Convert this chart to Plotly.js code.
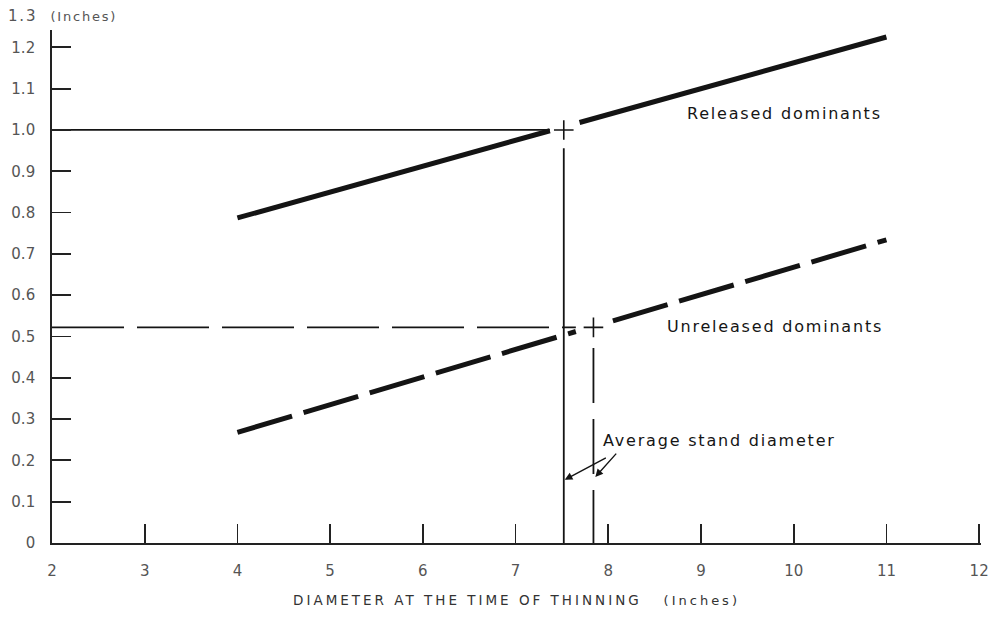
<!DOCTYPE html>
<html>
<head>
<meta charset="utf-8">
<script src="https://cdn.plot.ly/plotly-3.0.1.min.js"></script>
<style>
  html, body { margin: 0; padding: 0; background: #fff; }
  #chart { width: 988px; height: 620px; }
  .annotation-text { letter-spacing: 1.8px; }
  .g-xtitle text { letter-spacing: 3px; }
</style>
</head>
<body>
<div id="chart"></div>
<script>
// ---- data ----
const xTickVals = [2, 3, 4, 5, 6, 7, 8, 9, 10, 11, 12];
const yTickVals = [0, 0.1, 0.2, 0.3, 0.4, 0.5, 0.6, 0.7, 0.8, 0.9, 1.0, 1.1, 1.2];
const yTickText = ['0', '0.1', '0.2', '0.3', '0.4', '0.5', '0.6', '0.7', '0.8', '0.9', '1.0', '1.1', '1.2'];

// Released dominants (solid heavy line, broken at the average-diameter cross)
const releasedX = [4, 7.37, null, 7.69, 11];
const releasedY = [0.787, 0.998, null, 1.018, 1.225];

// Unreleased dominants (heavy dashed line)
const unreleasedX = [4, 7.65, null, 8.05, 11];
const unreleasedY = [0.268, 0.512, null, 0.538, 0.734];

// Average stand diameter points (crosses)
const releasedAvgX = [7.52];
const releasedAvgY = [1.0];
const unreleasedAvgX = [7.84];
const unreleasedAvgY = [0.522];

// Reference (read-off) lines
const relHorizX = [2, 7.37];
const relHorizY = [1.0, 1.0];
const relVertX = [7.52, 7.52];
const relVertY = [0.956, 0];
const unrelHorizX = [2, 7.65];
const unrelHorizY = [0.522, 0.522];
const unrelVertX = [7.84, 7.84];
const unrelVertY = [0.472, 0];

const ink = '#141414';

const traces = [
  { x: relHorizX, y: relHorizY, mode: 'lines', line: { color: ink, width: 1.8 }, hoverinfo: 'skip' },
  { x: relVertX, y: relVertY, mode: 'lines', line: { color: ink, width: 1.8 }, hoverinfo: 'skip' },
  { x: unrelHorizX, y: unrelHorizY, mode: 'lines', line: { color: ink, width: 1.8, dash: '72px,13px' }, hoverinfo: 'skip' },
  { x: unrelVertX, y: unrelVertY, mode: 'lines', line: { color: ink, width: 1.8, dash: '55px,16px' }, hoverinfo: 'skip' },
  { x: releasedX, y: releasedY, mode: 'lines', connectgaps: false, line: { color: ink, width: 5 }, name: 'Released dominants' },
  { x: unreleasedX, y: unreleasedY, mode: 'lines', connectgaps: false, line: { color: ink, width: 5, dash: '57px,12px' }, name: 'Unreleased dominants' },
  { x: releasedAvgX, y: releasedAvgY, mode: 'markers', marker: { symbol: 'cross-thin', size: 14, line: { color: ink, width: 1.6 } }, hoverinfo: 'skip' },
  { x: unreleasedAvgX, y: unreleasedAvgY, mode: 'markers', marker: { symbol: 'cross-thin', size: 14, line: { color: ink, width: 1.6 } }, hoverinfo: 'skip' }
];

const tickFont = { family: 'DejaVu Sans, sans-serif', size: 15, color: '#555' };
const labelFont = { family: 'DejaVu Sans, sans-serif', size: 16, color: '#151515' };

const layout = {
  width: 988,
  height: 620,
  margin: { l: 52, r: 7, t: 30, b: 77 },
  paper_bgcolor: '#fff',
  plot_bgcolor: '#fff',
  showlegend: false,
  xaxis: {
    range: [2, 12.02],
    tickvals: xTickVals,
    ticktext: xTickVals.map(String),
    ticks: 'inside',
    ticklen: 19,
    tickwidth: 1.8,
    tickcolor: '#222',
    showline: true,
    linecolor: '#222',
    linewidth: 1.8,
    showgrid: false,
    zeroline: false,
    tickfont: tickFont,
    ticklabelstandoff: 13,
    ticklabeloverflow: 'allow',
    automargin: false,
    title: {
      text: 'DIAMETER AT THE TIME OF THINNING&nbsp;&nbsp;&nbsp;<span style="font-size:13px">(Inches)</span>',
      font: { family: 'DejaVu Sans, sans-serif', size: 13.5, color: '#333' },
      standoff: 17
    }
  },
  yaxis: {
    range: [0, 1.242],
    tickvals: yTickVals,
    ticktext: yTickText,
    ticks: 'inside',
    ticklen: 19,
    tickwidth: 1.8,
    tickcolor: '#222',
    showline: true,
    linecolor: '#222',
    linewidth: 1.8,
    showgrid: false,
    zeroline: false,
    tickfont: tickFont,
    ticklabelstandoff: 12,
    automargin: false
  },
  annotations: [
    {
      xref: 'paper', yref: 'paper', x: -0.049, y: 1.027, xanchor: 'left', yanchor: 'middle',
      text: '1.3&nbsp;&nbsp;<span style="font-size:13px">(Inches)</span>', showarrow: false,
      font: tickFont
    },
    {
      xref: 'x', yref: 'y', x: 9.9, y: 1.041, xanchor: 'center', yanchor: 'middle',
      text: 'Released dominants', showarrow: false, font: labelFont
    },
    {
      xref: 'x', yref: 'y', x: 9.8, y: 0.523, xanchor: 'center', yanchor: 'middle',
      text: 'Unreleased dominants', showarrow: false, font: labelFont
    },
    {
      xref: 'x', yref: 'y', x: 7.92, y: 0.249, xanchor: 'left', yanchor: 'middle',
      text: 'Average stand diameter', showarrow: false, font: labelFont
    },
    {
      xref: 'x', yref: 'y', x: 7.53, y: 0.153, axref: 'x', ayref: 'y', ax: 7.99, ay: 0.208,
      text: '', showarrow: true, arrowhead: 2, arrowsize: 1.1, arrowwidth: 1.4, arrowcolor: ink
    },
    {
      xref: 'x', yref: 'y', x: 7.86, y: 0.16, axref: 'x', ayref: 'y', ax: 8.10, ay: 0.22,
      text: '', showarrow: true, arrowhead: 2, arrowsize: 1.1, arrowwidth: 1.4, arrowcolor: ink
    }
  ]
};

Plotly.newPlot('chart', traces, layout, { displayModeBar: false, staticPlot: true });
</script>
</body>
</html>
